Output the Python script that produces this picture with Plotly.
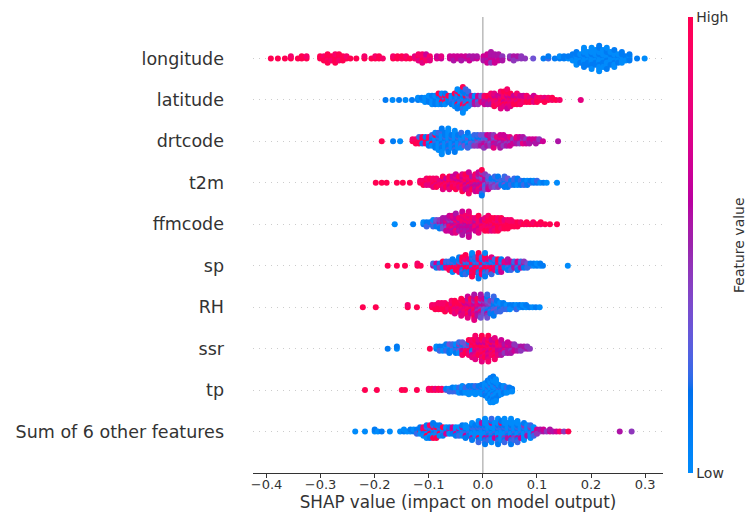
import numpy as np
import plotly.graph_objects as go

# Feature rows, top to bottom
feature_names = ["longitude", "latitude", "drtcode", "t2m", "ffmcode",
                 "sp", "RH", "ssr", "tp", "Sum of 6 other features"]

x_tick_values = [-0.4, -0.3, -0.2, -0.1, 0.0, 0.1, 0.2, 0.3]

# Samples grouped by SHAP value: (SHAP value, feature-value levels of the samples
# at that value, one digit per sample, 0 = low ... 9 = high)
longitude = [
    (-0.392, "9"), (-0.379, "9"), (-0.366, "9"), (-0.355, "98"), (-0.342, "9"), (-0.335, "99"), (-0.326, "98"),
    (-0.301, "99"), (-0.294, "989"), (-0.287, "99899"), (-0.280, "998"), (-0.273, "99989"), (-0.266, "9989"),
    (-0.259, "899"), (-0.252, "98"), (-0.245, "9"),
    (-0.234, "9"), (-0.219, "98"), (-0.206, "9"), (-0.199, "98"), (-0.192, "99"), (-0.185, "8"),
    (-0.166, "98"), (-0.158, "99"), (-0.150, "89"), (-0.142, "98"), (-0.135, "9"),
    (-0.126, "87"), (-0.119, "8978"), (-0.112, "78987"), (-0.105, "8786"), (-0.098, "787"),
    (-0.085, "76"), (-0.077, "67"),
    (-0.061, "66"), (-0.054, "565"), (-0.047, "66"), (-0.040, "565"), (-0.032, "56"), (-0.025, "656"),
    (-0.018, "55"), (-0.011, "65"),
    (0.001, "565"), (0.008, "56566"), (0.015, "656545"), (0.022, "55656"), (0.029, "4565"), (0.036, "545"),
    (0.050, "54"), (0.057, "454"), (0.064, "45"), (0.071, "44"), (0.078, "4"),
    (0.093, "3"),
    (0.112, "1"), (0.121, "21"), (0.133, "1"), (0.142, "10"), (0.150, "11"), (0.158, "01"),
    (0.166, "0101"), (0.173, "1001010"), (0.180, "01001"), (0.187, "1001001010"), (0.194, "0100101"),
    (0.201, "10010010100"), (0.208, "01001010"), (0.215, "1001001001010"), (0.222, "010010100"),
    (0.229, "00100101001"), (0.236, "1001001"), (0.243, "010010010"), (0.250, "01001"), (0.257, "100101"),
    (0.264, "010"), (0.271, "1011"), (0.285, "1"), (0.299, "0"),
]

latitude = [
    (-0.180, "1"), (-0.167, "0"), (-0.155, "1"), (-0.143, "0"), (-0.131, "1"), (-0.120, "10"), (-0.113, "01"),
    (-0.107, "100"), (-0.100, "0110"), (-0.094, "10010"), (-0.088, "01101"), (-0.082, "100109"),
    (-0.076, "019810"), (-0.070, "109901"), (-0.064, "0119"), (-0.058, "10201"),
    (-0.052, "0121090"), (-0.047, "1012901810"), (-0.042, "01210910"), (-0.037, "1021809101290"),
    (-0.032, "0129018102"), (-0.027, "21039102"),
    (-0.021, "13052"), (-0.015, "41605"), (-0.009, "35264"), (-0.003, "6473"),
    (0.003, "67586"), (0.009, "78695"), (0.015, "867958"), (0.021, "7986879"), (0.027, "89768"),
    (0.033, "689786987"), (0.039, "79689879"), (0.045, "9876987968"), (0.051, "8976897"), (0.057, "79869"),
    (0.063, "897698"), (0.069, "78968"), (0.075, "9786"), (0.081, "8798"), (0.087, "679"), (0.094, "8976"),
    (0.100, "789"), (0.107, "98"), (0.114, "879"), (0.121, "98"), (0.128, "89"), (0.135, "9"), (0.142, "8"),
    (0.181, "7"),
]

drtcode = [
    (-0.187, "9"), (-0.166, "1"), (-0.153, "0"),
    (-0.130, "98"), (-0.124, "989"), (-0.118, "8992"), (-0.112, "9819"), (-0.106, "2981"), (-0.100, "19081"),
    (-0.094, "019102"), (-0.088, "10201910"), (-0.082, "010201020"), (-0.076, "1010201012010"),
    (-0.070, "01020101"), (-0.064, "102010102010"), (-0.058, "0102010"), (-0.052, "10102010201"),
    (-0.046, "0102010"), (-0.040, "10203102"), (-0.034, "02103"), (-0.028, "12031021"), (-0.022, "21302"),
    (-0.016, "312042"), (-0.010, "243142"), (-0.004, "324153"),
    (0.002, "4352634"), (0.008, "534256"), (0.014, "453645"), (0.020, "5463547"), (0.026, "6457"),
    (0.032, "5647565"), (0.038, "465746"), (0.044, "57465"), (0.050, "65476"), (0.056, "546"), (0.062, "4657"),
    (0.068, "5646"), (0.074, "6475"), (0.080, "546"), (0.086, "465"), (0.092, "56"), (0.098, "465"),
    (0.104, "54"), (0.111, "6"), (0.139, "5"),
]

t2m = [
    (-0.198, "9"), (-0.187, "9"), (-0.178, "9"), (-0.159, "9"), (-0.148, "9"), (-0.135, "9"),
    (-0.116, "98"), (-0.110, "989"), (-0.104, "8978"), (-0.098, "9879"), (-0.092, "78987"),
    (-0.086, "89789"), (-0.080, "978"), (-0.074, "8796897"), (-0.068, "79869"), (-0.062, "8978697"),
    (-0.056, "698796"), (-0.050, "79868796"), (-0.044, "879679"), (-0.038, "968796879"),
    (-0.032, "78697869"), (-0.026, "86975869768"), (-0.020, "6978659"), (-0.014, "785967586"),
    (-0.008, "6857648576"), (-0.002, "5764835764291"),
    (0.004, "46352634"), (0.010, "5342536"), (0.016, "42314"), (0.022, "324132"), (0.028, "213241"),
    (0.034, "321"), (0.040, "213212"), (0.046, "12131"), (0.052, "212"), (0.058, "1212"), (0.064, "2101"),
    (0.070, "121"), (0.076, "012"), (0.082, "101"), (0.088, "21"), (0.094, "10"), (0.100, "12"), (0.106, "0"),
    (0.112, "1"), (0.118, "0"), (0.137, "0"),
]

ffmcode = [
    (-0.163, "0"), (-0.129, "1"),
    (-0.110, "10"), (-0.104, "012"), (-0.098, "21"), (-0.092, "1320"), (-0.086, "2413"), (-0.080, "35241"),
    (-0.074, "462535"), (-0.068, "5647356"), (-0.062, "65847566"), (-0.056, "756486576"), (-0.050, "6578568675"),
    (-0.044, "8765685"), (-0.038, "675868576856"), (-0.032, "76586758"), (-0.026, "5867685768576"),
    (-0.020, "685768"), (-0.014, "7685876"), (-0.008, "687868797"), (-0.002, "87968"),
    (0.004, "9789879"), (0.010, "89798998"), (0.016, "9879897"), (0.022, "8998798"), (0.028, "9897989"),
    (0.034, "789989"), (0.040, "98979"), (0.046, "89989"), (0.052, "9898"), (0.058, "989"), (0.064, "899"),
    (0.070, "98"), (0.076, "9"), (0.081, "89"), (0.087, "9"), (0.093, "98"), (0.100, "9"), (0.107, "89"),
    (0.115, "9"), (0.124, "9"), (0.137, "9"),
]

sp = [
    (-0.176, "9"), (-0.159, "9"), (-0.144, "9"), (-0.121, "98"), (-0.115, "9"),
    (-0.092, "52"), (-0.086, "261"), (-0.080, "614"), (-0.074, "2519"), (-0.068, "9172"),
    (-0.062, "91829"), (-0.056, "8192910"), (-0.050, "92819"), (-0.044, "18929181"), (-0.038, "927918291"),
    (-0.032, "8192971829"), (-0.026, "9182971"), (-0.020, "291871928190"), (-0.014, "81927192"),
    (-0.008, "9182971928191"), (-0.002, "192871928"),
    (0.004, "819297182910"), (0.010, "9281972"), (0.016, "719281972"), (0.022, "928172"),
    (0.028, "1827291"), (0.034, "6172816"), (0.040, "2617"), (0.046, "172615"), (0.052, "25162"),
    (0.058, "6152"), (0.064, "15261"), (0.070, "4152"), (0.076, "2514"), (0.082, "132"), (0.088, "21"),
    (0.094, "01"), (0.100, "10"), (0.106, "01"), (0.111, "1"), (0.157, "0"),
]

RH = [
    (-0.222, "9"), (-0.198, "9"), (-0.139, "98"), (-0.122, "9"),
    (-0.094, "98"), (-0.088, "989"), (-0.082, "8998"), (-0.076, "9898"), (-0.070, "98989"), (-0.064, "898"),
    (-0.058, "989798"), (-0.052, "8979897"), (-0.046, "98798"), (-0.040, "798978697"),
    (-0.034, "8976897"), (-0.028, "97869785967"), (-0.022, "86975869"), (-0.016, "7586947586957"),
    (-0.010, "685748695"), (-0.004, "574683574635"),
    (0.002, "46352436"), (0.008, "352413524132"), (0.014, "2413241"), (0.020, "3121321312"),
    (0.026, "213021"), (0.032, "12102"), (0.038, "0121"), (0.044, "102"), (0.050, "210"), (0.056, "01"),
    (0.062, "102"), (0.068, "01"), (0.074, "10"), (0.080, "01"), (0.086, "1"), (0.092, "0"), (0.098, "1"),
    (0.105, "0"),
]

ssr = [
    (-0.176, "1"), (-0.159, "01"), (-0.098, "9"),
    (-0.086, "10"), (-0.080, "012"), (-0.074, "210"), (-0.068, "1021"), (-0.062, "20131"), (-0.056, "1302"),
    (-0.050, "31201"), (-0.044, "213402"), (-0.038, "4261538"), (-0.032, "62839"), (-0.026, "82947189"),
    (-0.020, "971829687"), (-0.014, "897968798978"), (-0.008, "98798697"), (-0.002, "7989869879897"),
    (0.004, "897896879"), (0.010, "9879687968798"), (0.016, "78967986"), (0.022, "67869786978"),
    (0.028, "5768697"), (0.034, "67586756"), (0.040, "56754"), (0.046, "465756"), (0.052, "56465"),
    (0.058, "4564"), (0.064, "545"), (0.070, "454"), (0.076, "45"), (0.082, "54"), (0.087, "4"),
]

tp = [
    (-0.218, "9"), (-0.196, "9"), (-0.150, "9"), (-0.144, "9"), (-0.122, "9"),
    (-0.100, "98"), (-0.094, "89"), (-0.088, "97"), (-0.082, "89"), (-0.076, "98"),
    (-0.068, "31"), (-0.062, "102"), (-0.056, "0121"), (-0.050, "1020"), (-0.044, "01020"),
    (-0.038, "102010"), (-0.032, "01020"), (-0.026, "1002010"), (-0.020, "010201"),
    (-0.014, "1001020"), (-0.008, "010201"), (-0.002, "10010201"),
    (0.004, "0100102010"), (0.009, "10020100101001"), (0.014, "0100100201001010010"),
    (0.019, "10010010200100101001"), (0.024, "01001002010010100"), (0.029, "100201001"),
    (0.034, "0102010"), (0.039, "102010"), (0.044, "01020"), (0.049, "1001"), (0.054, "010"),
]

other_features = [
    (-0.236, "0"), (-0.218, "0"), (-0.200, "01"), (-0.194, "0"), (-0.187, "1"), (-0.172, "0"),
    (-0.153, "0"), (-0.146, "10"), (-0.140, "0"), (-0.134, "01"), (-0.128, "10"), (-0.122, "012"),
    (-0.116, "9101"), (-0.110, "09180"), (-0.104, "1902910"), (-0.098, "0192081"), (-0.092, "90190291"),
    (-0.086, "1029019"), (-0.080, "019201"), (-0.074, "10291"),
    (-0.068, "0160"), (-0.062, "1501"), (-0.056, "0716"), (-0.050, "10601"), (-0.044, "05102"),
    (-0.038, "102501"), (-0.032, "0120601"), (-0.026, "10201"), (-0.020, "010201501"),
    (-0.014, "100201"), (-0.008, "01020190102"), (-0.002, "10020105"),
    (0.004, "0102016010201"), (0.010, "102010502"), (0.016, "010020170102"), (0.022, "10201060"),
    (0.028, "0102015010201"), (0.034, "1002010801"), (0.040, "010201401020"), (0.046, "10201050"),
    (0.052, "0102016010201"), (0.058, "102010402"), (0.064, "01020150102"), (0.070, "1020106"),
    (0.076, "010204010"), (0.082, "102050"), (0.088, "0104020"), (0.094, "10502"),
    (0.100, "564"), (0.106, "45"), (0.112, "56"), (0.118, "4"), (0.124, "65"), (0.130, "5"), (0.136, "6"),
    (0.142, "8"), (0.150, "4"), (0.158, "9"), (0.253, "5"), (0.275, "4"),
]

rows = [longitude, latitude, drtcode, t2m, ffmcode, sp, RH, ssr, tp, other_features]

ROW_HEIGHT = 0.4


def swarm_offsets(values, nbins=100):
    """Vertical jitter: samples sharing a value bin are stacked alternately above and below the row."""
    v = np.asarray(values, dtype=float)
    quant = np.round(nbins * (v - v.min()) / (v.max() - v.min() + 1e-8))
    order = np.argsort(quant, kind="stable")
    ys = np.zeros(len(v))
    layer, last_bin = 0, None
    for idx in order:
        if quant[idx] != last_bin:
            layer = 0
        ys[idx] = np.ceil(layer / 2) * ((layer % 2) * 2 - 1)
        layer += 1
        last_bin = quant[idx]
    ys *= 0.9 * (ROW_HEIGHT / np.max(ys + 1))
    return ys


def lch_to_rgb(l, c, h):
    a, b = c * np.cos(h), c * np.sin(h)
    fy = (l + 16) / 116
    fx, fz = fy + a / 500, fy - b / 200

    def finv(t):
        return t ** 3 if t > 6 / 29 else 3 * (6 / 29) ** 2 * (t - 4 / 29)

    X, Y, Z = 0.95047 * finv(fx), finv(fy), 1.08883 * finv(fz)
    lin = [3.2406 * X - 1.5372 * Y - 0.4986 * Z,
           -0.9689 * X + 1.8758 * Y + 0.0415 * Z,
           0.0557 * X - 0.2040 * Y + 1.0570 * Z]
    out = []
    for u in lin:
        u = min(max(u, 0.0), 1.0)
        s = 12.92 * u if u <= 0.0031308 else 1.055 * u ** (1 / 2.4) - 0.055
        out.append(int(round(min(max(s, 0.0), 1.0) * 255)))
    return out


def red_blue_scale(nsteps=100):
    """Blue -> purple -> red colour scale interpolated in LCH space."""
    blue_lch = (54.0, 70.0, 4.6588)
    red_lch = (54.0, 90.0, 0.35470565 + 2 * np.pi)
    l_mid = 40.0
    l_vals = np.concatenate([np.linspace(blue_lch[0], l_mid, nsteps // 2),
                             np.linspace(l_mid, red_lch[0], nsteps // 2)])
    c_vals = np.linspace(blue_lch[1], red_lch[1], nsteps)
    h_vals = np.linspace(blue_lch[2], red_lch[2], nsteps)
    scale = []
    for pos, l, c, h in zip(np.linspace(0, 1, nsteps), l_vals, c_vals, h_vals):
        r, g, b = lch_to_rgb(l, c, h)
        scale.append([float(pos), f"rgb({r},{g},{b})"])
    return scale


n_rows = len(rows)
row_positions = [n_rows - 1 - i for i in range(n_rows)]

xs, ys, cs = [], [], []
for pos, groups in zip(row_positions, rows):
    vals, levels = [], []
    for value, lv in groups:
        for ch in lv:
            vals.append(value)
            levels.append(int(ch) / 9)
    offs = swarm_offsets(vals)
    xs.extend(vals)
    ys.extend(pos + offs)
    cs.extend(levels)

W, H = 746, 523
ML, MR, MT, MB = 253, 83, 17, 50
fig = go.Figure()
fig.add_trace(go.Scatter(
    x=xs, y=ys, mode="markers", hoverinfo="skip",
    marker=dict(
        size=6, color=cs, cmin=0, cmax=1, colorscale=red_blue_scale(),
        line=dict(width=0), opacity=1,
        colorbar=dict(
            thickness=5, outlinewidth=0,
            xref="container", x=688 / W, xanchor="left", xpad=0,
            yref="paper", y=0, yanchor="bottom", ypad=0,
            lenmode="fraction", len=1,
            tickvals=[0, 1], ticktext=["Low", "High"], ticks="",
            tickfont=dict(family="DejaVu Sans", size=14, color="#333333"),
        ),
    ),
))

# zero reference line
fig.add_shape(type="line", xref="x", yref="paper", x0=0, x1=0, y0=0, y1=1,
              line=dict(color="#999999", width=1), layer="below")

# colour bar label
fig.add_annotation(text="Feature value", textangle=-90, showarrow=False,
                   xref="paper", yref="paper", x=(739 - ML) / (W - ML - MR), y=0.5,
                   xanchor="center", yanchor="middle",
                   font=dict(family="DejaVu Sans", size=14, color="#333333"))

fig.update_layout(
    width=W, height=H,
    margin=dict(l=ML, r=MR, t=MT, b=MB),
    paper_bgcolor="white", plot_bgcolor="white",
    showlegend=False,
    font=dict(family="DejaVu Sans", color="#333333"),
    xaxis=dict(
        range=[-0.425, 0.333],
        tickvals=x_tick_values,
        ticktext=[f"{v:.1f}".replace("-", "\u2212") for v in x_tick_values],
        ticks="outside", ticklen=4, tickwidth=1, tickcolor="#333333",
        showline=True, linecolor="#333333", linewidth=1,
        showgrid=False, zeroline=False,
        tickfont=dict(size=13, color="#333333"),
        ticklabelstandoff=-5,
        title=dict(text="SHAP value (impact on model output)", standoff=3,
                   font=dict(size=16.8, color="#333333")),
    ),
    yaxis=dict(
        range=[-1, n_rows],
        tickvals=row_positions, ticktext=feature_names,
        ticks="", showline=False, zeroline=False,
        showgrid=True, gridcolor="#cccccc", gridwidth=0.5, griddash="1px,5px",
        tickfont=dict(size=17.5, color="#333333"),
        ticklabelstandoff=28,
    ),
)

fig.write_html("out.html")
